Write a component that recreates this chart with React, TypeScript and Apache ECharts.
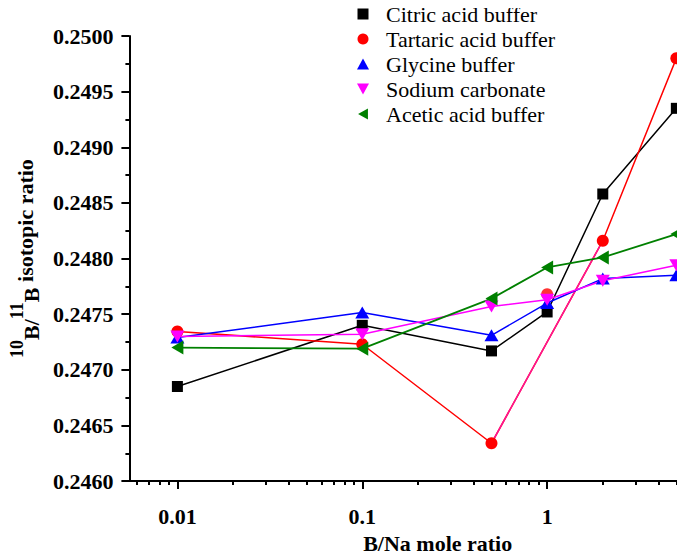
import React, { useEffect, useRef } from "react";
import * as echarts from "echarts";

const FONT = "Times New Roman, Liberation Serif, DejaVu Serif, serif";

// B/Na mole ratio
const xValues = [0.01, 0.1, 0.5, 1, 2, 5];
// 10B/11B isotopic ratio
const citric = [0.24685, 0.2474, 0.24717, 0.24752, 0.24858, 0.24935];
const tartaric = [0.247345, 0.24723, 0.24634, 0.24768, 0.24816, 0.2498];
const glycine = [0.24729, 0.247515, 0.24731, 0.24760, 0.24782, 0.24785];
const sodium = [0.24730, 0.24732, 0.24757, 0.24763, 0.24780, 0.24794];
const acetic = [0.24720, 0.24719, 0.24764, 0.24792, 0.24801, 0.24822];

const seriesNames = [
  "Citric acid buffer",
  "Tartaric acid buffer",
  "Glycine buffer",
  "Sodium carbonate",
  "Acetic acid buffer",
];

const yTicks = { min: 0.246, max: 0.25, interval: 0.0005 };
const xRange = { min: 0.0055, max: 5.5 };
const xMajorTicks = [0.01, 0.1, 1];
const xMinorTicks = [
  0.006, 0.007, 0.008, 0.009,
  0.02, 0.03, 0.04, 0.05, 0.06, 0.07, 0.08, 0.09,
  0.2, 0.3, 0.4, 0.5, 0.6, 0.7, 0.8, 0.9,
  2, 3, 4, 5,
];

const DOWN_TRI = "path://M0,0L10,0L5,9Z";
const LEFT_TRI = "path://M0,5L9,0L9,10Z";
const UP_TRI = "path://M5,0L10,9L0,9Z";
const SQUARE = "path://M0,0L10,0L10,10L0,10Z";

const pairs = (ys: number[], idx?: number[]) =>
  (idx ?? ys.map((_, i) => i)).map((i) => [xValues[i], ys[i]]);

export default function App() {
  const ref = useRef<HTMLDivElement>(null);
  useEffect(() => {
    if (!ref.current) return;
    const chart = echarts.init(ref.current, undefined, { renderer: "svg" });
    const lineBase = (name: string, color: string, data: any[], symbol: any, size: any, width = 1.5) => ({
      name,
      type: "line",
      xAxisIndex: 0,
      data,
      symbol,
      symbolSize: size,
      showSymbol: true,
      itemStyle: { color },
      lineStyle: { color, width },
      emphasis: { disabled: true },
    });
    chart.setOption({
      animation: false,
      backgroundColor: "#fff",
      textStyle: { fontFamily: FONT },
      grid: { left: 129, right: 1, top: 36, bottom: 75, containLabel: false },
      legend: {
        orient: "vertical",
        left: 357,
        top: 3,
        padding: 0,
        itemWidth: 12,
        itemHeight: 11,
        itemGap: 3,
        textStyle: { fontFamily: FONT, fontSize: 22, color: "#000", padding: [0, 0, 0, 12] },
        data: [
          { name: seriesNames[0], icon: SQUARE },
          { name: seriesNames[1], icon: "circle" },
          { name: seriesNames[2], icon: UP_TRI },
          { name: seriesNames[3], icon: DOWN_TRI },
          { name: seriesNames[4], icon: LEFT_TRI },
        ],
      },
      xAxis: [
        {
          type: "log",
          logBase: 10,
          min: xRange.min,
          max: xRange.max,
          position: "bottom",
          name: "B/Na mole ratio",
          nameLocation: "middle",
          nameGap: 46,
          nameTextStyle: {
            fontFamily: FONT,
            fontSize: 22,
            fontWeight: "bold",
            color: "#000",
            padding: [0, 0, 0, 62],
          },
          axisLine: { show: true, onZero: false, lineStyle: { color: "#000", width: 2 } },
          axisTick: { show: true, length: 8, lineStyle: { color: "#000", width: 2 }, customValues: xMajorTicks },
          axisLabel: {
            show: true,
            margin: 24,
            fontFamily: FONT,
            fontSize: 22,
            fontWeight: "bold",
            color: "#000",
            customValues: xMajorTicks,
            formatter: (v: number) => String(v),
          },
          splitLine: { show: false },
        },
        {
          type: "log",
          logBase: 10,
          min: xRange.min,
          max: xRange.max,
          position: "bottom",
          axisLine: { show: false, onZero: false },
          axisTick: { show: true, length: 4, lineStyle: { color: "#000", width: 2 }, customValues: xMinorTicks },
          axisLabel: { show: false },
          splitLine: { show: false },
        },
      ],
      yAxis: {
        type: "value",
        min: yTicks.min,
        max: yTicks.max,
        interval: yTicks.interval,
        name: "{sup|10}{b|B/}{sup|11}{b|B}{n| isotopic ratio}",
        nameLocation: "middle",
        nameGap: 86,
        nameTextStyle: {
          fontFamily: FONT,
          fontWeight: "bold",
          color: "#000",
          rich: {
            sup: { fontFamily: FONT, fontSize: 18, fontWeight: "bold", color: "#000", verticalAlign: "top", lineHeight: 18 },
            b: { fontFamily: FONT, fontSize: 22, fontWeight: "bold", color: "#000", verticalAlign: "bottom", lineHeight: 22 },
            n: { fontFamily: FONT, fontSize: 22, fontWeight: "bold", color: "#000", verticalAlign: "middle", lineHeight: 34 },
          },
        },
        axisLine: { show: true, lineStyle: { color: "#000", width: 2 } },
        axisTick: { show: true, length: 8, lineStyle: { color: "#000", width: 2 } },
        minorTick: { show: true, splitNumber: 2, length: 4, lineStyle: { color: "#000", width: 2 } },
        axisLabel: {
          margin: 16,
          fontFamily: FONT,
          fontSize: 22,
          fontWeight: "bold",
          color: "#000",
          formatter: (v: number) => v.toFixed(4),
        },
        splitLine: { show: false },
      },
      series: [
        lineBase(seriesNames[0], "#000000", pairs(citric), "rect", 11),
        lineBase(seriesNames[1], "#ff0000", pairs(tartaric, [0, 1, 2, 4, 5]), "circle", 12),
        {
          name: "tartaric-link",
          type: "line",
          data: pairs(tartaric, [2, 4]),
          showSymbol: false,
          lineStyle: { color: "#ff1493", width: 1.5 },
          emphasis: { disabled: true },
        },
        {
          name: seriesNames[1],
          type: "scatter",
          data: pairs(tartaric, [3]),
          symbol: "circle",
          symbolSize: 12,
          itemStyle: { color: "#ff0000" },
          emphasis: { disabled: true },
        },
        lineBase(seriesNames[2], "#0000ff", pairs(glycine), "triangle", [14, 12]),
        lineBase(seriesNames[3], "#ff00ff", pairs(sodium), DOWN_TRI, [14, 12]),
        lineBase(seriesNames[4], "#008000", pairs(acetic), LEFT_TRI, [12, 14], 1.8),
      ],
    });
    return () => chart.dispose();
  }, []);
  return <div ref={ref} style={{ width: 685, height: 559, margin: -8 }} />;
}
